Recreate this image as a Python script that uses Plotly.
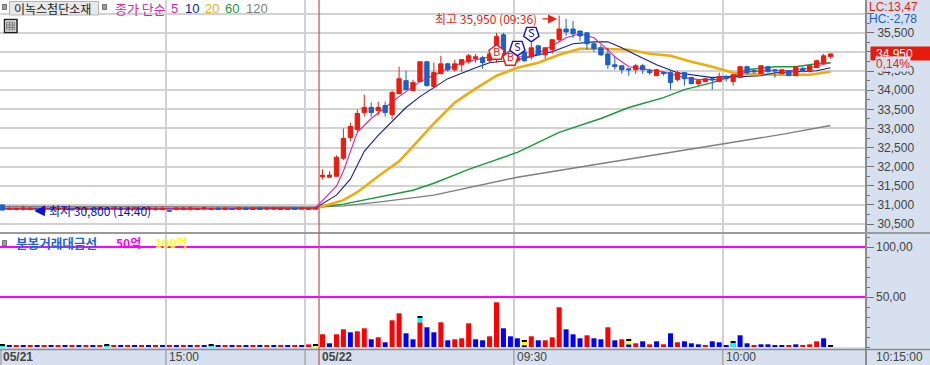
import plotly.graph_objects as go

W, H = 930, 365
KR = "Noto Sans CJK KR"
SANS = "Liberation Sans"
PANEL = "#D6E0EE"
RED, BLUE = "#EE1C0E", "#1B5FC8"

# ---- candles: session 05/21 (tail) followed by session 05/22
pre_x = list(range(-46, 0))
pre_open = [31000,30890,30880,30890,30880,30900,30890,30900,30880,30890,30900,30890,30880,30900,30890,30910,30890,30900,30880,30890,30900,30890,30880,30880,30850,30890,30880,30890,30880,30900,30880,30920,30880,30900,30890,30920,30880,30920,30890,30890,30880,30880,30920,30890,30880,30890]
pre_close = [30865,30900,30910,30920,30920,30880,30920,30880,30910,30930,30870,30920,30910,30880,30920,30880,30920,30880,30920,30925,30880,30920,30910,30910,30840,30920,30920,30920,30910,30925,30910,30880,30920,30880,30920,30880,30920,30880,30920,30920,30920,30910,30880,30920,30910,30920]
pre_high = [31000,30950,30920,30980,30920,30920,30990,30900,30950,30930,30900,30920,30950,30900,30920,30910,30950,30900,30950,30925,30900,30920,30950,30960,30850,30920,30950,30960,30910,30960,30910,30920,30920,30900,30920,30920,30920,30920,30920,30920,30920,30910,30920,30920,30910,30920]
pre_low = [30865,30860,30860,30850,30860,30880,30840,30880,30880,30860,30870,30880,30800,30880,30860,30880,30870,30880,30860,30890,30880,30860,30850,30860,30830,30860,30860,30850,30880,30860,30880,30880,30860,30880,30870,30880,30880,30880,30880,30870,30880,30880,30880,30890,30880,30890]

day_x = list(range(0, 74))
day_open = [31740,31725,31750,32220,32765,32975,33415,33550,33470,33600,33365,33910,34250,33990,34225,34745,34095,34430,34690,34535,34665,34745,34825,34850,34770,35135,35450,34850,34770,35000,34875,35160,34925,35055,35320,35600,35600,35550,35500,35215,35110,34950,34665,34640,34560,34535,34640,34510,34380,34460,34460,34275,34460,34330,34170,34225,34300,34225,34355,34225,34330,34615,34510,34430,34615,34535,34430,34510,34380,34560,34485,34590,34720,34875]
day_close = [31770,31780,32245,32740,33050,33390,33550,33415,33550,33415,33940,34300,34015,34200,34745,34120,34460,34690,34535,34690,34800,34900,34875,34720,34950,35400,34900,34925,34850,34770,35110,34925,35110,35320,35600,35525,35475,35420,35215,35085,34925,34665,34615,34535,34535,34640,34535,34460,34535,34435,34200,34460,34300,34170,34250,34300,34275,34355,34300,34405,34615,34460,34485,34640,34485,34510,34535,34380,34615,34485,34640,34770,34900,34950]
day_high = [31930,31880,32300,33000,33155,33495,33885,33680,33700,33700,33990,34615,34510,34275,34745,34745,34720,34900,34720,34800,34800,34950,34950,34900,35005,35500,35500,35005,34925,35005,35240,35185,35110,35320,35950,35865,35810,35550,35525,35265,35185,35110,34875,34640,34560,34690,34690,34560,34560,34485,34510,34510,34460,34355,34250,34300,34355,34460,34405,34405,34640,34640,34560,34640,34640,34560,34535,34510,34615,34615,34640,34800,34950,34950]
day_low = [31670,31725,31750,32170,32660,32920,33310,33310,33340,33310,33235,33910,34015,33990,34225,34095,34070,34430,34485,34485,34485,34690,34720,34560,34720,34720,34875,34770,34720,34745,34800,34925,34825,34950,35265,35420,35370,35290,35055,35000,34900,34560,34535,34430,34380,34430,34430,34405,34380,34380,34015,34225,34120,34170,34120,34200,34015,34225,34225,34120,34330,34405,34430,34430,34460,34330,34430,34380,34380,34485,34485,34590,34690,34825]

# ---- moving averages, read at the bars where they could be read
ma5_x = [-46,-20,-1,2,3,4,5,7,11,14,17,20,24,27,30,33,35,37,39,41,42,44,46,49,52,54,57,59,61,64,67,70,73]
ma5_y = [30900,30900,30930,31490,31880,32375,32896,33260,33833,34224,34484,34718,34875,34875,34875,35161,35370,35474,35370,35057,34875,34614,34562,34484,34328,34276,34276,34354,34484,34510,34510,34588,34718]
ma10_x = [-46,-20,-1,2,4,6,8,10,12,14,18,22,24,28,31,33,36,39,41,43,45,48,51,53,56,58,60,63,65,68,71,73]
ma10_y = [30900,30900,30920,31255,31672,32401,32818,33182,33547,33833,34302,34588,34718,34797,34927,35005,35213,35265,35265,35109,34927,34666,34458,34406,34328,34354,34354,34380,34458,34484,34510,34588]
ma20_x = [-46,-20,-1,3,5,8,11,13,16,19,22,25,28,31,34,37,40,44,47,50,53,56,59,61,65,70,73]
ma20_y = [30905,30905,30905,31125,31333,31750,32141,32531,33130,33677,34041,34380,34588,34718,34927,35083,35083,35057,34953,34901,34745,34614,34458,34432,34406,34406,34484]
ma60_x = [-46,-20,-1,3,8,13,16,21,28,34,40,44,49,52,56,59,61,65,68,71,73]
ma60_y = [30925,30925,30925,31021,31203,31385,31567,31932,32375,32896,33260,33547,33807,34015,34198,34380,34536,34614,34614,34692,34718]
ma120_x = [-46,-20,-1,3,8,16,28,43,57,66,73]
ma120_y = [30960,30950,30945,30975,31073,31255,31724,32167,32583,32844,33078]

# ---- trade value panel
vol_pre = [1.4]*44 + [2.6, 1.4]
vol_pre_side = ("rb" * 22) + "rb"
vol_day = [12.7,3.7,12.7,17.7,14.7,15.7,18.7,7.7,9.7,4.7,26.7,33.7,13.7,7.7,24.7,19.7,14.7,24.7,6.7,7.7,8.7,23.7,7.7,6.7,10.7,44.7,18.7,10.7,8.7,1.7,10.7,6.7,6.7,9.7,39.7,17.7,12.7,8.7,11.7,8.7,7.7,19.7,6.7,7.7,2.7,3.7,5.7,2.7,5.7,2.7,13.7,4.7,5.7,3.7,2.7,1.7,5.7,4.7,1.7,4.0,11.7,3.7,1.7,2.7,2.7,1.7,1.7,1.7,2.7,1.7,2.7,5.7,8.7,1.7]
vol_day_side = "rbrrbrrbrbrrbbrbbrbrrrbbrrbbbbrbrrrbbbrbbrbrbrbrbrbrbbbrbbbrbbrbbbbrbrrrb"[:74]
mark_x = [-46,-31,-16,-1,14,29,44,59]
mark_base = [0,0,0,0,24.7,1.7,2.7,0]
mark_height = [1.0,1.0,1.0,1.4,4.7,3.5,3.7,4.0]
mark_color = ["#00FFFF","#00FFFF","#00FFFF","#FFFF00","#00FFFF","#FFFF00","#FFFF00","#00FFFF"]
cap_height = [1.4]*8

# ---- signals
buy_x, buy_y = [25, 27], [34979, 34823]
sell_x, sell_y = [28, 30], [35109, 35474]

# ---- tick labels
price_ticks = [30500,31000,31500,32000,32500,33000,33500,34000,34500,35000,35500,36000]
price_labels = ["30,500","31,000","31,500","32,000","32,500","33,000","33,500","34,000","34,500","","35,500",""]
time_grid = [-22.5, -2.5, 27.5, 57.5]
X_RANGE = [-46.34, 78.09]
Y_RANGE = [30292, 36359]


def px(x):
    return x / W


def py(y):
    return 1 - y / H


fig = go.Figure()

for xs, ys, col, w in [
    (ma120_x, ma120_y, "#7F7F7F", 1.4),
    (ma60_x, ma60_y, "#169A3C", 1.4),
    (ma20_x, ma20_y, "#F0AC0C", 2.6),
    (ma10_x, ma10_y, "#10209C", 1.1),
    (ma5_x, ma5_y, "#E020B0", 1.1),
]:
    fig.add_trace(go.Scatter(x=xs, y=ys, mode="lines", line=dict(color=col, width=w),
                             hoverinfo="skip", showlegend=False, xaxis="x", yaxis="y"))

fig.add_trace(go.Candlestick(
    x=pre_x + day_x, open=pre_open + day_open, high=pre_high + day_high,
    low=pre_low + day_low, close=pre_close + day_close,
    increasing=dict(line=dict(color=RED, width=1), fillcolor=RED),
    decreasing=dict(line=dict(color=BLUE, width=1), fillcolor=BLUE),
    whiskerwidth=0, hoverinfo="skip", showlegend=False, xaxis="x", yaxis="y3"))

fig.add_trace(go.Scatter(
    x=buy_x, y=buy_y, mode="markers+text", text=["B", "B"], textposition="middle center",
    textfont=dict(family=KR, size=11, color="#EE1C0E"),
    marker=dict(symbol="pentagon", size=16, color="white", line=dict(color="#EE1C0E", width=1.4)),
    hoverinfo="skip", showlegend=False, xaxis="x", yaxis="y3"))
fig.add_trace(go.Scatter(
    x=sell_x, y=sell_y, mode="markers+text", text=["S", "S"], textposition="middle center",
    textfont=dict(family=KR, size=11, color="#1010D0"),
    marker=dict(symbol="pentagon", angle=180, size=16, color="white", line=dict(color="#1010D0", width=1.4)),
    hoverinfo="skip", showlegend=False, xaxis="x", yaxis="y3"))

side_color = {"r": "#FF0000", "b": "#0000FF"}
fig.add_trace(go.Bar(
    x=pre_x + day_x, y=vol_pre + vol_day, width=0.72,
    marker=dict(color=[side_color[s] for s in vol_pre_side + vol_day_side], line=dict(width=0)),
    hoverinfo="skip", showlegend=False, xaxis="x2", yaxis="y2"))
fig.add_trace(go.Bar(
    x=mark_x, y=mark_height, base=mark_base, width=0.72,
    marker=dict(color=mark_color, line=dict(width=0)),
    hoverinfo="skip", showlegend=False, xaxis="x2", yaxis="y2"))
fig.add_trace(go.Bar(
    x=mark_x, y=cap_height, base=[b + h for b, h in zip(mark_base, mark_height)], width=0.72,
    marker=dict(color="#000000", line=dict(width=0)),
    hoverinfo="skip", showlegend=False, xaxis="x2", yaxis="y2"))

axis_font = dict(family=SANS, size=12, color="#444444")
shapes = []


def line(x0, y0, x1, y1, color, width=1):
    shapes.append(dict(type="line", xref="paper", yref="paper", x0=px(x0), x1=px(x1),
                       y0=py(y0), y1=py(y1), line=dict(color=color, width=width), layer="above"))


def box(x0, y0, x1, y1, fill, border=None, width=1):
    shapes.append(dict(type="rect", xref="paper", yref="paper", x0=px(x0), x1=px(x1),
                       y0=py(y0), y1=py(y1), fillcolor=fill,
                       line=dict(color=border or fill, width=width), layer="above"))


# magenta reference lines
for level in (50, 100):
    shapes.append(dict(type="line", xref="x2", yref="y2", x0=X_RANGE[0], x1=X_RANGE[1], y0=level, y1=level,
                       line=dict(color="#FF00FF", width=2), layer="above"))
# frame
line(866, 0, 866, 365, "#8C8C8C", 2)
line(0, 233, 930, 233, "#9A9A9A", 2)
line(0, 349.5, 930, 349.5, "#8C8C8C", 1.5)
# session line and time-axis separators
for t in time_grid:
    shapes.append(dict(type="line", xref="x", yref="paper", x0=t, x1=t, y0=py(350), y1=0,
                       line=dict(color="#A8A8A8", width=1.5), layer="above"))
shapes.append(dict(type="line", xref="x", yref="paper", x0=-0.5, x1=-0.5, y0=py(0), y1=0,
                   line=dict(color="#C8504C", width=1.2), layer="above"))
line(1, 350, 1, 365, "#8C8C8C", 1)

# legend widgets
box(2.5, 4.5, 6.5, 9.5, "#A0A0A0", "#707070")
box(9.5, 1.5, 98.5, 15, "#E8E8E8", "#B4B4B4")
box(102.5, 4.5, 106.5, 9.5, "#A0A0A0", "#707070")
box(4.5, 19.5, 17, 32.5, "#FFFFFF", "#202020", 1.5)
box(6.5, 22, 15, 30, "#C8C8C8", "#808080")
line(9.5, 22, 9.5, 30, "#808080")
line(12.5, 22, 12.5, 30, "#808080")
line(6.5, 25, 15, 25, "#808080")
line(6.5, 27.5, 15, 27.5, "#808080")
box(2.5, 240.5, 6.5, 245.5, "#A0A0A0", "#707070")
box(871, 47, 930, 60, "#E8190C")


def label(x, y, text, color, size=12, family=KR, anchor="left", bg=None):
    return dict(xref="paper", yref="paper", x=px(x), y=py(y), text=text, showarrow=False,
                xanchor=anchor, yanchor="middle", align="left",
                font=dict(family=family, size=size, color=color),
                bgcolor=bg, borderpad=0)


annotations = [
    label(13, 8, "이녹스첨단소재", "#222222", 12),
    label(114, 8, "종가 단순", "#E020B0", 13),
    label(170, 8, "5", "#E020B0", 13, SANS),
    label(184, 8, "10", "#1020B0", 13, SANS),
    label(204, 8, "20", "#F0AC0C", 13, SANS),
    label(224, 8, "60", "#169A3C", 13, SANS),
    label(245, 8, "120", "#7F7F7F", 13, SANS),
    label(434, 18, "최고 35,950 (09:36)", "#EE1C0E", 12),
    label(48, 211, "최저 30,800 (14:40)", "#1010D0", 12),
    label(15, 242, "<b>분봉거래대금선</b>", "#2266DD", 12.6),
    label(115, 242, "<b>50억</b>", "#FF00FF", 12),
    label(154, 242, "<b>100억</b>", "#FFFF00", 12),
    label(868, 7, "LC:13,47", "#EE1C0E", 12, SANS),
    label(868, 19, "HC:-2,78", "#1B5FC8", 12, SANS),
    label(875, 53.5, "34,950", "#FFFFFF", 12, SANS),
    label(875, 64, "0,14%", "#EE1C0E", 12, SANS, bg=PANEL),
    label(875, 247, "100,00", "#444444", 12, SANS),
    label(875, 297, "50,00", "#444444", 12, SANS),
    label(2, 357, "<b>05/21</b>", "#444444", 12, SANS),
    label(168, 357, "15:00", "#444444", 12, SANS),
    label(321, 357, "<b>05/22</b>", "#444444", 12, SANS),
    label(516, 357, "09:30", "#444444", 12, SANS),
    label(725, 357, "10:00", "#444444", 12, SANS),
    label(875, 357, "10:15:00", "#444444", 12, SANS),
    # arrows beside the high and low captions
    dict(xref="x", yref="y", x=33.7, y=35865, ax=-16, ay=0, text="", showarrow=True,
         arrowhead=2, arrowsize=1.5, arrowwidth=1.2, arrowcolor="#EE1C0E"),
    dict(xref="x", yref="y", x=-41.4, y=30838, ax=13, ay=0, text="", showarrow=True,
         arrowhead=2, arrowsize=1.5, arrowwidth=1.4, arrowcolor="#1010D0"),
]

grid = "#D2D2D2"
fig.update_layout(
    width=W, height=H, autosize=False,
    margin=dict(l=0, r=0, t=0, b=0),
    paper_bgcolor=PANEL, plot_bgcolor="#FFFFFF",
    barmode="overlay", showlegend=False, boxgap=0.12,
    shapes=shapes, annotations=annotations,
    xaxis=dict(domain=[0, px(866)], range=X_RANGE, anchor="y", tickvals=time_grid, ticks="",
               showticklabels=False, showgrid=True, gridcolor=grid, gridwidth=1.5,
               zeroline=False, rangeslider=dict(visible=False), showline=False, fixedrange=True),
    xaxis2=dict(domain=[0, px(866)], range=X_RANGE, anchor="y2", tickvals=time_grid, ticks="",
                showticklabels=False, showgrid=True, gridcolor=grid, gridwidth=1.5,
                zeroline=False, showline=False, fixedrange=True),
    yaxis=dict(domain=[py(232), 1], range=Y_RANGE, side="right", anchor="x",
               tickvals=price_ticks, ticktext=price_labels, ticks="outside", ticklen=7,
               tickcolor="#707070", tickfont=axis_font, showgrid=True, gridcolor=grid, gridwidth=1.5,
               zeroline=False, showline=False, ticklabelstandoff=1, fixedrange=True,
               minor=dict(tickvals=[p + 250 for p in price_ticks[:-1]], ticks="outside",
                          ticklen=3, tickcolor="#707070", showgrid=False)),
    yaxis3=dict(range=Y_RANGE, overlaying="y", side="right", anchor="x", visible=False, fixedrange=True),
    yaxis2=dict(domain=[py(347), py(234)], range=[0, 113], side="right", anchor="x2",
                tickvals=[50, 100], ticktext=["", ""], ticks="outside", ticklen=7,
                tickcolor="#707070", showgrid=False, zeroline=False, showline=False, fixedrange=True,
                minor=dict(dtick=10, ticks="outside", ticklen=3, tickcolor="#707070", showgrid=False)),
)

fig.write_html("out.html", config=dict(displayModeBar=False),
               post_script="document.body.style.margin='0';document.body.style.overflow='hidden';")
